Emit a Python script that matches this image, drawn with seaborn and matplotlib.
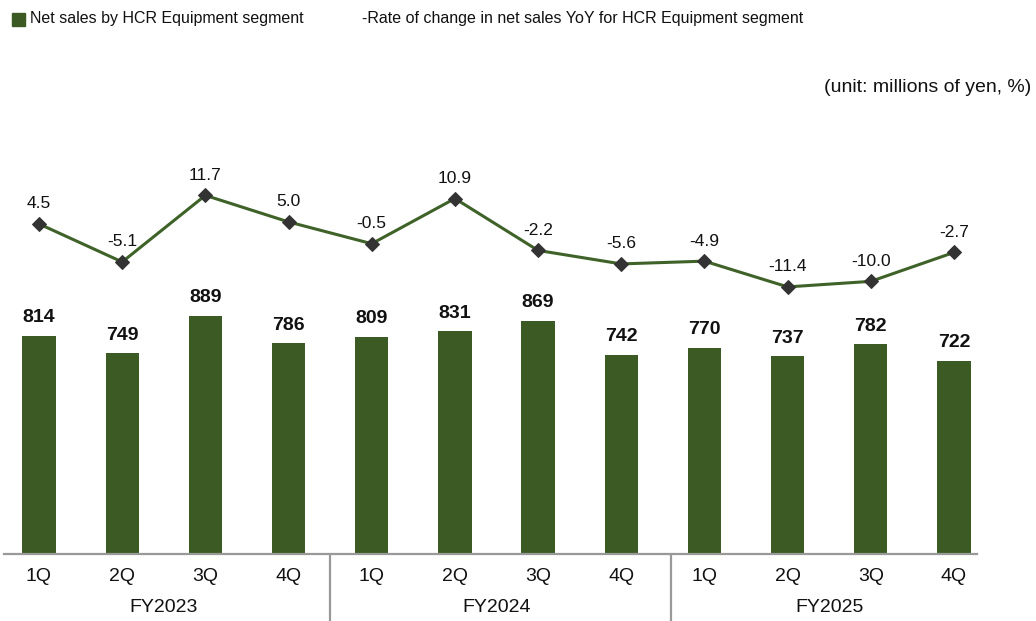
import matplotlib
matplotlib.use("Agg")
import matplotlib.pyplot as plt
from matplotlib.patches import Rectangle
import seaborn as sns
import pandas as pd

# Data
quarters = ["1Q", "2Q", "3Q", "4Q"] * 3
fiscal_years = ["FY2023", "FY2024", "FY2025"]
net_sales = [814, 749, 889, 786, 809, 831, 869, 742, 770, 737, 782, 722]
yoy_rate = [4.5, -5.1, 11.7, 5.0, -0.5, 10.9, -2.2, -5.6, -4.9, -11.4, -10.0, -2.7]

bar_color = "#3c5a24"
line_color = "#3f6229"
marker_color = "#333333"
axis_color = "#999999"

sns.set_theme(style="white")
plt.rcParams["font.family"] = ["Liberation Sans", "DejaVu Sans"]

W, H = 1036, 621
fig = plt.figure(figsize=(W / 100, H / 100), dpi=100)

# axes placed in pixel terms
left_px, right_px, bottom_px, top_px = 4, 977, 554, 170
ax = fig.add_axes([left_px / W, (H - bottom_px) / H,
                   (right_px - left_px) / W, (bottom_px - top_px) / H])

df = pd.DataFrame({"idx": list(range(len(net_sales))), "sales": net_sales, "rate": yoy_rate})

sns.barplot(data=df, x="idx", y="sales", color=bar_color, width=0.4,
            saturation=1, ax=ax, edgecolor="none")

step = 83.2
ax.set_xlim(-35 / step, 11 + 23 / step)
ax.set_ylim(0, (bottom_px - top_px) / 0.268)

for i, v in enumerate(net_sales):
    ax.annotate(f"{v}", (i, v), xytext=(0, 7), textcoords="offset points",
                ha="center", va="bottom", fontsize=14, fontweight="bold", color="#111111")

# line on a twin axis
ax2 = ax.twinx()
sns.lineplot(data=df, x="idx", y="rate", ax=ax2, color=line_color, linewidth=2.2,
             marker="D", markersize=7, markerfacecolor=marker_color,
             markeredgecolor=marker_color)
ax2.set_xlim(ax.get_xlim())
ax2.set_ylim(-78.8, 18.1)
for i, v in enumerate(yoy_rate):
    ax2.annotate(f"{v:.1f}", (i, v), xytext=(0, 9), textcoords="offset points",
                 ha="center", va="bottom", fontsize=12.5, color="#111111")

for a in (ax, ax2):
    a.set_xlabel("")
    a.set_ylabel("")
    a.set_yticks([])
    for s in ("top", "right", "left"):
        a.spines[s].set_visible(False)
ax2.spines["bottom"].set_visible(False)
ax.spines["bottom"].set_color(axis_color)
ax.spines["bottom"].set_linewidth(1.6)

ax.set_xticks(range(len(quarters)))
ax.set_xticklabels(quarters, fontsize=14, color="#111111")
ax.tick_params(axis="x", length=0, pad=10)
ax2.tick_params(axis="x", length=0, labelbottom=False)

# fiscal year group labels and separators
trans = ax.get_xaxis_transform()
axes_h = bottom_px - top_px
for k, fy in enumerate(fiscal_years):
    ax.text(4 * k + 1.5, -(607 - bottom_px) / axes_h, fy, transform=trans,
            ha="center", va="center", fontsize=14, color="#111111")
for xsep in (3.5, 7.6):
    ax.plot([xsep, xsep], [0, -(H - bottom_px) / axes_h], transform=trans,
            color=axis_color, linewidth=1.6, clip_on=False)

# legend row
fig.patches.append(Rectangle((12 / W, 1 - 26 / H), 13 / W, 13 / H,
                             transform=fig.transFigure, color=bar_color))
fig.text(30 / W, 1 - 19 / H, "Net sales by HCR Equipment segment",
         ha="left", va="center", fontsize=11.5, color="#111111")
fig.text(362 / W, 1 - 19 / H, "-Rate of change in net sales YoY for HCR Equipment segment",
         ha="left", va="center", fontsize=11.5, color="#111111")
fig.text(1031 / W, 1 - 88 / H, "(unit: millions of yen, %)",
         ha="right", va="center", fontsize=14, color="#111111")

fig.savefig("out.png", dpi=100)
